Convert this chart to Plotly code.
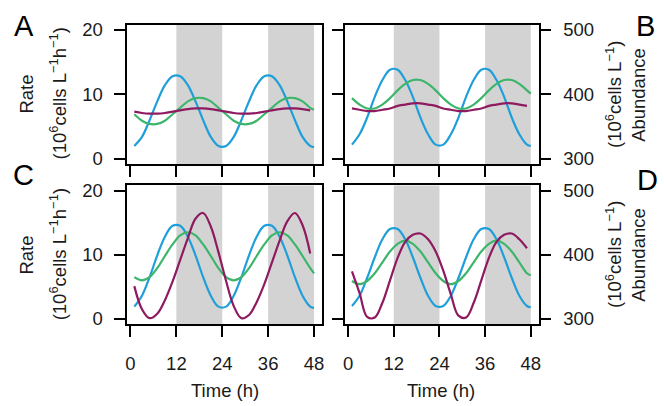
import plotly.graph_objects as go

W, H = 664, 406

# Time (h) sample points
T = [1, 3, 5, 7, 9, 11, 13, 15, 17, 19, 21, 23, 25, 27, 29, 31, 33, 35, 37, 39, 41, 43, 45, 47, 48]
T_P = [1, 3, 5, 7, 9, 11, 13, 15, 17, 19, 21, 23, 25, 27, 29, 31, 33, 35, 37, 39, 41, 43, 45, 47]

# Panel A: rates
blue_A = [2.0, 3.4, 6.0, 8.9, 11.4, 12.8, 12.8, 11.4, 8.9, 6.0, 3.4, 2.0,
          2.0, 3.4, 6.0, 8.9, 11.4, 12.8, 12.8, 11.4, 8.9, 6.0, 3.4, 2.0, 1.8]
green_A = [6.9, 5.9, 5.4, 5.4, 5.9, 6.9, 7.9, 8.9, 9.4, 9.4, 8.9, 7.9,
           6.9, 5.9, 5.4, 5.4, 5.9, 6.9, 7.9, 8.9, 9.4, 9.4, 8.9, 7.9, 7.6]
purple_A = [7.3, 7.1, 7.0, 7.0, 7.1, 7.3, 7.5, 7.7, 7.8, 7.8, 7.7, 7.5,
            7.3, 7.1, 7.0, 7.0, 7.1, 7.3, 7.5, 7.7, 7.8, 7.8, 7.7, 7.5]

# Panel B: abundance
blue_B = [322, 338, 364, 396, 422, 438, 438, 422, 396, 364, 338, 322,
          322, 338, 364, 396, 422, 438, 438, 422, 396, 364, 338, 322, 320]
green_B = [394, 384, 378, 378, 384, 394, 406, 416, 422, 422, 416, 406,
           394, 384, 378, 378, 384, 394, 406, 416, 422, 422, 416, 406, 401]
purple_B = [378, 376, 374, 374, 376, 378, 382, 384, 386, 386, 384, 382,
            378, 376, 374, 374, 376, 378, 382, 384, 386, 386, 384, 382]

# Panel C: rates
blue_C = [1.9, 3.6, 6.5, 9.9, 12.8, 14.5, 14.5, 12.8, 9.9, 6.5, 3.6, 1.9,
          1.9, 3.6, 6.5, 9.9, 12.8, 14.5, 14.5, 12.8, 9.9, 6.5, 3.6, 1.9, 1.7]
green_C = [6.5, 6.0, 6.5, 7.9, 9.8, 11.6, 13.0, 13.5, 13.0, 11.6, 9.8, 7.9,
           6.5, 6.0, 6.5, 7.9, 9.8, 11.6, 13.0, 13.5, 13.0, 11.6, 9.8, 7.9, 7.1]
purple_C = [5.1, 1.5, 0.1, 0.8, 2.9, 5.8, 9.2, 12.6, 15.6, 16.5, 14.4, 10.4,
            5.9, 2.0, 0.1, 0.6, 2.6, 5.4, 8.8, 12.2, 15.2, 16.5, 14.6, 10.2]

# Panel D: abundance
blue_D = [320, 336, 364, 396, 424, 440, 440, 424, 396, 364, 336, 320,
          320, 336, 364, 396, 424, 440, 440, 424, 396, 364, 336, 320, 318]
green_D = [359, 354, 359, 371, 388, 405, 417, 422, 417, 405, 388, 371,
           359, 354, 359, 371, 388, 405, 417, 422, 417, 405, 388, 371, 368]
purple_D = [374, 340, 303, 302, 325, 360, 395, 420, 431, 433, 424, 405,
            375, 338, 305, 302, 325, 360, 395, 420, 431, 433, 424, 410]

# Dark periods
dark = [(12, 24), (36, 48)]

x_ticks = [0, 12, 24, 36, 48]
rate_ticks = [0, 10, 20]
abund_ticks = [300, 400, 500]

BLUE = "#1f9fd9"
GREEN = "#3db56b"
PURPLE = "#8e1a60"
GREY = "#d3d3d3"
FONT = "Liberation Sans, Arial, Helvetica, sans-serif"
TXT = "#1a1a1a"
FS = 18.5

fig = go.Figure()

panels = [
    ("x", "y", blue_A, green_A, purple_A),
    ("x2", "y2", blue_B, green_B, purple_B),
    ("x3", "y3", blue_C, green_C, purple_C),
    ("x4", "y4", blue_D, green_D, purple_D),
]
for xa, ya, b, g, p in panels:
    fig.add_trace(go.Scatter(x=T, y=b, mode="lines", line=dict(color=BLUE, width=2.2, shape="spline"),
                             xaxis=xa, yaxis=ya, showlegend=False, hoverinfo="skip"))
    fig.add_trace(go.Scatter(x=T, y=g, mode="lines", line=dict(color=GREEN, width=2.2, shape="spline"),
                             xaxis=xa, yaxis=ya, showlegend=False, hoverinfo="skip"))
    fig.add_trace(go.Scatter(x=T_P, y=p, mode="lines", line=dict(color=PURPLE, width=2.2, shape="spline"),
                             xaxis=xa, yaxis=ya, showlegend=False, hoverinfo="skip"))
    for d0, d1 in dark:
        fig.add_shape(type="rect", xref=xa, yref=ya + " domain", x0=d0, x1=d1, y0=0, y1=1,
                      fillcolor=GREY, line=dict(width=0), layer="below")


def px(v):
    return v / W


def py(v):
    return 1 - v / H


XL = [px(126), px(322)]
XR = [px(345), px(540)]
YT = [py(163), py(20)]
YB = [py(327), py(185)]

tickfont = dict(family=FONT, size=FS, color=TXT)
common_x = dict(range=[-0.85, 50.1], tickvals=x_ticks, ticks="outside", ticklen=11, tickwidth=1.5,
                tickcolor="black", showline=True, linewidth=1.5, linecolor="black", mirror=True,
                showgrid=False, zeroline=False, tickfont=tickfont, ticklabelstandoff=11)
common_y = dict(ticks="outside", ticklen=11, tickwidth=1.5, tickcolor="black", showline=True,
                linewidth=1.5, linecolor="black", showgrid=False, zeroline=False, tickfont=tickfont,
                ticklabelstandoff=8)

fig.update_layout(
    width=W, height=H, margin=dict(l=0, r=0, t=0, b=0),
    paper_bgcolor="white", plot_bgcolor="white",
    font=dict(family=FONT, size=FS, color=TXT),
    xaxis=dict(common_x, domain=XL, anchor="y", showticklabels=False),
    xaxis2=dict(common_x, domain=XR, anchor="y2", showticklabels=False),
    xaxis3=dict(common_x, domain=XL, anchor="y3"),
    xaxis4=dict(common_x, domain=XR, anchor="y4"),
    yaxis=dict(common_y, domain=YT, anchor="x", range=[-0.8, 20.8], tickvals=rate_ticks, mirror=True, side="left"),
    yaxis2=dict(common_y, domain=YT, anchor="x2", range=[292, 508], tickvals=abund_ticks, mirror="ticks", side="right"),
    yaxis3=dict(common_y, domain=YB, anchor="x3", range=[-0.8, 20.8], tickvals=rate_ticks, mirror=True, side="left"),
    yaxis4=dict(common_y, domain=YB, anchor="x4", range=[292, 508], tickvals=abund_ticks, mirror="ticks", side="right"),
)

lab = dict(family=FONT, size=FS, color=TXT)
big = dict(family=FONT, size=29, color="black")
rate_unit = "(10<sup>6</sup>cells L<sup>−1</sup>h<sup>−1</sup>)"
abund_unit = "(10<sup>6</sup>cells L<sup>−1</sup>)"
ann = [
    ("Rate", 25, 91, -90, lab),
    (rate_unit, 56, 91, -90, lab),
    ("Rate", 25, 256, -90, lab),
    (rate_unit, 56, 256, -90, lab),
    (abund_unit, 615, 92, -90, lab),
    ("Abundance", 641, 92, -90, lab),
    (abund_unit, 615, 256, -90, lab),
    ("Abundance", 641, 256, -90, lab),
    ("Time (h)", 224, 395, 0, lab),
    ("Time (h)", 442, 395, 0, lab),
    ("A", 22, 22, 0, big),
    ("B", 647, 22, 0, big),
    ("C", 22, 174, 0, big),
    ("D", 649, 179, 0, big),
]
for text, x, y, ang, f in ann:
    fig.add_annotation(text=text, x=px(x), y=py(y), xref="paper", yref="paper", showarrow=False,
                       xanchor="center", yanchor="middle", textangle=ang, font=f)

fig.write_html("out.html", config={"displayModeBar": False},
               post_script="document.body.style.margin='0';document.body.style.overflow='hidden';")
